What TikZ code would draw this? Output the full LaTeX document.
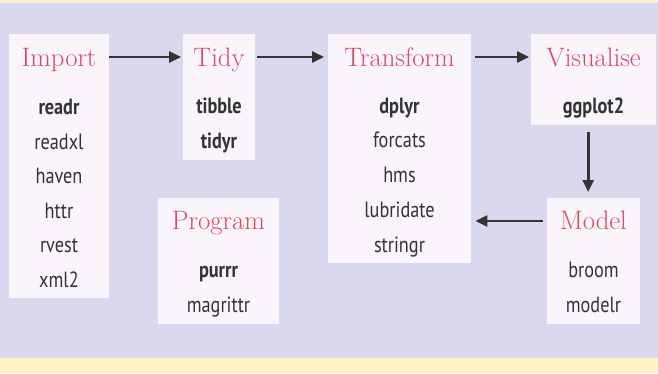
\documentclass[tikz,border=0pt]{standalone}
\usepackage{fontspec}
\setsansfont{PT Sans}[FakeStretch=0.83]
\usetikzlibrary{arrows.meta}
\definecolor{bgyellow}{HTML}{FFF3C6}
\definecolor{bglav}{HTML}{D9D8EF}
\definecolor{boxfill}{HTML}{F9F5FB}
\definecolor{titlecol}{HTML}{D94A64}
\definecolor{txtcol}{HTML}{333333}
\begin{document}
\begin{tikzpicture}[x=1pt,y=-1pt,
  box/.style={fill=boxfill, draw=none, inner sep=0, anchor=north west},
  ttl/.style={anchor=base, text=titlecol, font=\fontsize{26.7}{30}\selectfont, inner sep=0},
  itm/.style={anchor=base, text=txtcol, font=\sffamily\fontsize{22}{24}\selectfont, inner sep=0},
  bitm/.style={anchor=base, text=txtcol, font=\sffamily\bfseries\fontsize{22}{24}\selectfont, inner sep=0},
  flow/.style={draw=txtcol, line width=2.6pt, -{Triangle[length=12pt,width=11pt]}}]
\useasboundingbox (0,0) rectangle (658,373);
\fill[bgyellow] (0,0) rectangle (658,373);
\fill[bglav] (0,2.5) rectangle (658,358);
% boxes
\node[box, minimum width=100, minimum height=264] (imp) at (9,34) {};
\node[box, minimum width=72, minimum height=126] (tidy) at (183,34) {};
\node[box, minimum width=143, minimum height=229] (trans) at (328,34) {};
\node[box, minimum width=125, minimum height=91] (vis) at (531,34) {};
\node[box, minimum width=93, minimum height=126] (model) at (547,198) {};
\node[box, minimum width=121, minimum height=126] (prog) at (158,198) {};
% titles
\node[ttl] (impT) at (59,66) {Import};
\node[ttl] (tidyT) at (219,66) {Tidy};
\node[ttl] (transT) at (399.5,66) {Transform};
\node[ttl] (visT) at (593.5,66) {Visualise};
\node[ttl] (modelT) at (593.5,229) {Model};
\node[ttl] (progT) at (218.5,229) {Program};
% Import items
\node[bitm] (i1) at (59,114.5) {readr};
\node[itm] (i2) at (59,149) {readxl};
\node[itm] (i3) at (59,183.5) {haven};
\node[itm] (i4) at (59,218) {httr};
\node[itm] (i5) at (59,252.5) {rvest};
\node[itm] (i6) at (59,287) {xml2};
% Tidy items
\node[bitm] (t1) at (219,113.5) {tibble};
\node[bitm] (t2) at (219,148) {tidyr};
% Transform items
\node[bitm] (r1) at (399.5,113) {dplyr};
\node[itm] (r2) at (399.5,147.5) {forcats};
\node[itm] (r3) at (399.5,182.5) {hms};
\node[itm] (r4) at (399.5,217.5) {lubridate};
\node[itm] (r5) at (399.5,252) {stringr};
% Visualise
\node[bitm] (v1) at (593.5,113) {ggplot2};
% Model
\node[itm] (m1) at (593.5,277) {broom};
\node[itm] (m2) at (593.5,312) {modelr};
% Program
\node[bitm] (p1) at (218.5,277) {purrr};
\node[itm] (p2) at (218.5,312.5) {magrittr};
% connectors
\coordinate (row1) at (0,57);
\coordinate (row2) at (0,221);
\draw[flow, shorten >=2pt] (imp.east |- row1) -- (tidy.west |- row1);
\draw[flow, shorten <=2pt, shorten >=4pt] (tidy.east |- row1) -- (trans.west |- row1);
\draw[flow, shorten <=4pt, shorten >=2pt] (trans.east |- row1) -- (vis.west |- row1);
\draw[flow, shorten <=7pt, shorten >=6pt] ([xshift=-5.5pt]vis.south) -- ([xshift=-5.5pt]model.north);
\draw[flow, shorten <=4pt, shorten >=4pt] (model.west |- row2) -- (trans.east |- row2);
\end{tikzpicture}
\end{document}
